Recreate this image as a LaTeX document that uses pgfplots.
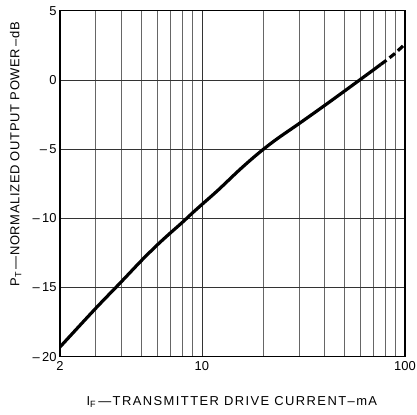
\documentclass[border=0pt]{standalone}
\usepackage{fontspec}
\setmainfont{Liberation Sans}
\newfontfamily\xlabfont[LetterSpace=11]{Liberation Sans}
\newfontfamily\ylabfont[LetterSpace=5]{Liberation Sans}
\usepackage{pgfplots}
\pgfplotsset{compat=1.18}
\begin{document}
\begin{tikzpicture}
\path[use as bounding box] (0bp,0bp) rectangle (417bp,415bp);
\begin{axis}[
  at={(60bp,58.3bp)}, anchor=south west,
  scale only axis, width=345bp, height=346bp,
  xmode=log, xmin=2, xmax=100, ymin=-20, ymax=5,
  xtick={2,10,100}, xticklabels={2,10,100},
  minor xtick={3,4,5,6,7,8,9,20,30,40,50,60,70,80,90},
  ytick={-20,-15,-10,-5,0,5},
  yticklabels={--\,20,--\,15,--\,10,--\,5,0,5},
  xmajorgrids, xminorgrids, ymajorgrids,
  major grid style={line width=0.7pt, black!80},
  minor grid style={line width=0.6pt, black!60},
  tick style={draw=none},
  axis line style={line width=1.6pt, black},
  ticklabel style={font=\fontsize{13}{15}\selectfont},
  xticklabel style={yshift=-1bp},
  /pgf/number format/assume math mode=true,
  xlabel={I\textsubscript{F}\,\textemdash TRANSMITTER DRIVE CURRENT\textendash mA},
  ylabel={P\textsubscript{T}\,\textemdash NORMALIZED OUTPUT POWER\,\textendash dB},
  xlabel style={font=\xlabfont\fontsize{13}{15}\selectfont, at={(axis description cs:0.0667,0)}, anchor=base west, yshift=-48.3bp},
  ylabel style={font=\ylabfont\fontsize{13}{15}\selectfont, at={(axis description cs:-0.118,0.193)}, anchor=base west},
]
\addplot[line width=3.2pt, black, smooth] coordinates {
(2,-19.3) (3,-16.5) (4,-14.6) (5,-13.1) (6,-11.95) (7,-11.05) (8,-10.3)
(9,-9.6) (10,-9.0) (12,-7.97) (15,-6.62) (17.5,-5.74) (20,-5.03) (22.5,-4.45)
(25,-3.97) (30,-3.17) (40,-1.87) (50,-0.84) (60,0.01) (70,0.73) (76,1.12)
};
\addplot[line width=3.2pt, black, dash pattern=on 7pt off 4pt] coordinates {
(76,1.12) (80,1.36) (90,1.95) (100,2.6)
};
\end{axis}
\end{tikzpicture}
\end{document}
